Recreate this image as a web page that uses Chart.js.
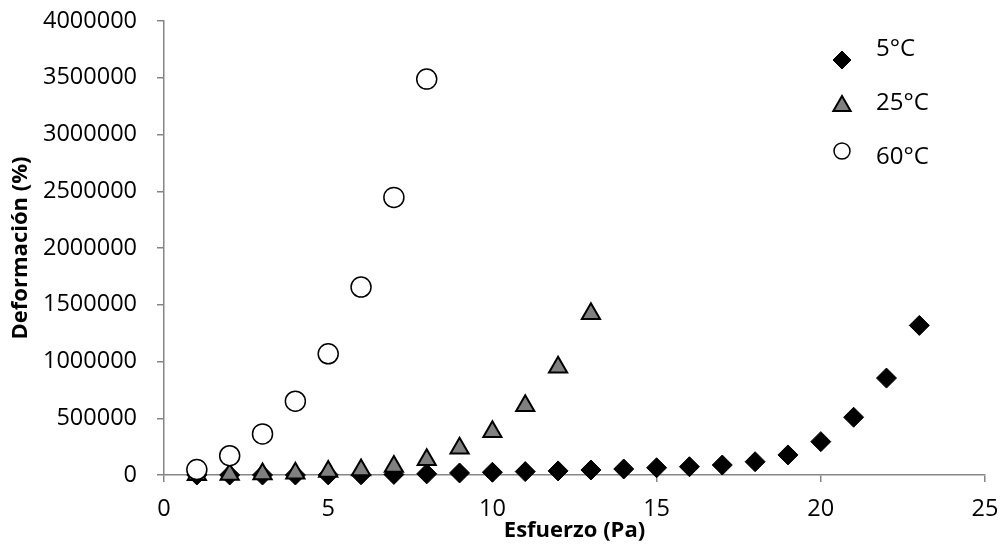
<!DOCTYPE html>
<html>
<head>
<meta charset="utf-8">
<script src="https://cdn.jsdelivr.net/npm/chart.js@4/dist/chart.umd.min.js"></script>
<style>
    html, body { margin: 0; padding: 0; background: #fff; }
    #wrap { width: 1000px; height: 548px; }
</style>
</head>
<body>
<div id="wrap"><canvas id="myChart" width="1000" height="548"></canvas></div>
<script>
// Esfuerzo (Pa) por serie
const stress5 = [1, 2, 3, 4, 5, 6, 7, 8, 9, 10, 11, 12, 13, 14, 15, 16, 17, 18, 19, 20, 21, 22, 23];
const stress25 = [1, 2, 3, 4, 5, 6, 7, 8, 9, 10, 11, 12, 13];
const stress60 = [1, 2, 3, 4, 5, 6, 7, 8];

// Deformación (%) por serie
const strain5 = [0, 0, 0, 0, 1000, 2000, 5000, 10000, 18000, 24000, 30000, 36000, 44000,
    53000, 64000, 73000, 88000, 117000, 177000, 294000, 509000, 854000, 1318000];
const strain25 = [2000, 5000, 9000, 15000, 30000, 45000, 75000, 135000, 235000, 380000, 610000, 950000, 1420000];
const strain60 = [48000, 170000, 362000, 650000, 1068000, 1656000, 2446000, 3488000];

const seriesLabels = ['5°C', '25°C', '60°C'];

const xTicksMax = 25;
const xTicksStep = 5;
const yTicksMax = 4000000;
const yTicksStep = 500000;

const FONT = '"Open Sans", sans-serif';
const AXIS_GREY = '#868686';

const toPoints = (xs, ys) => xs.map((x, i) => ({ x: x, y: ys[i] }));

function drawMarker(ctx, style, x, y, r, fill, stroke, lw)
{
    ctx.save();
    ctx.beginPath();
    if (style === 'rectRot')
    {
        ctx.moveTo(x, y - r);
        ctx.lineTo(x + r, y);
        ctx.lineTo(x, y + r);
        ctx.lineTo(x - r, y);
        ctx.closePath();
    }
    else if (style === 'triangle')
    {
        const h = r * Math.cos(Math.PI / 6);
        ctx.moveTo(x, y - r);
        ctx.lineTo(x + h, y + r / 2);
        ctx.lineTo(x - h, y + r / 2);
        ctx.closePath();
    }
    else
    {
        ctx.arc(x, y, r, 0, Math.PI * 2);
    }
    ctx.fillStyle = fill;
    ctx.fill();
    ctx.lineWidth = lw;
    ctx.strokeStyle = stroke;
    ctx.stroke();
    ctx.restore();
}

// legend sits inside the plot, top right, one entry per row
const insideLegend = {
    id: 'insideLegend',
    afterDraw(chart)
    {
        const ctx = chart.ctx;
        const rows = [
            { my: 60, ty: 49, r: 9 },
            { my: 106, ty: 103, r: 10 },
            { my: 151, ty: 157, r: 8 },
        ];
        chart.data.datasets.forEach((ds, i) =>
        {
            const row = rows[i];
            drawMarker(ctx, ds.pointStyle, 842, row.my, row.r, ds.backgroundColor, ds.borderColor, ds.borderWidth);
            ctx.save();
            ctx.font = '24px ' + FONT;
            ctx.fillStyle = '#000';
            ctx.textAlign = 'left';
            ctx.textBaseline = 'middle';
            ctx.fillText(ds.label, 876, row.ty);
            ctx.restore();
        });
    }
};

const chartContext = document.getElementById('myChart').getContext('2d');

new Chart(chartContext, {
    type: 'scatter',
    data: {
        datasets: [
            {
                label: seriesLabels[0],
                data: toPoints(stress5, strain5),
                pointStyle: 'rectRot',
                pointRadius: 10,
                pointHoverRadius: 10,
                backgroundColor: '#000000',
                borderColor: '#000000',
                borderWidth: 1,
                order: 3,
                clip: false,
            },
            {
                label: seriesLabels[1],
                data: toPoints(stress25, strain25),
                pointStyle: 'triangle',
                pointRadius: 10.5,
                pointHoverRadius: 10.5,
                backgroundColor: '#808080',
                borderColor: '#000000',
                borderWidth: 2,
                order: 2,
                clip: false,
            },
            {
                label: seriesLabels[2],
                data: toPoints(stress60, strain60),
                pointStyle: 'circle',
                pointRadius: 10,
                pointHoverRadius: 10,
                backgroundColor: '#ffffff',
                borderColor: '#000000',
                borderWidth: 1.5,
                order: 1,
                clip: false,
            },
        ]
    },
    options: {
        responsive: false,
        animation: false,
        events: [],
        layout: {
            padding: { top: 21, right: 15, left: 0, bottom: 0 }
        },
        plugins: {
            legend: { display: false },
            tooltip: { enabled: false },
        },
        scales: {
            x: {
                type: 'linear',
                min: 0,
                max: xTicksMax,
                // fixed box so the plot area lines up with the axis frame
                afterFit: (scale) =>
                {
                    scale.height = 73;
                    scale.paddingLeft = 0;
                    scale.paddingRight = 0;
                },
                border: { color: AXIS_GREY, width: 1.5 },
                grid: {
                    drawOnChartArea: false,
                    drawTicks: true,
                    tickLength: 7,
                    color: AXIS_GREY,
                    lineWidth: 1.5,
                },
                ticks: {
                    stepSize: xTicksStep,
                    padding: 13,
                    color: '#000',
                    font: { family: FONT, size: 23.5 },
                    maxRotation: 0,
                },
                title: {
                    display: true,
                    text: 'Esfuerzo (Pa)',
                    color: '#000',
                    font: { family: FONT, size: 22, weight: 'bold' },
                    padding: { top: 4, bottom: 4 },
                },
            },
            y: {
                type: 'linear',
                min: 0,
                max: yTicksMax,
                afterFit: (scale) =>
                {
                    scale.width = 164;
                    scale.paddingTop = 0;
                    scale.paddingBottom = 0;
                },
                border: { color: AXIS_GREY, width: 1.5 },
                grid: {
                    drawOnChartArea: false,
                    drawTicks: true,
                    tickLength: 7,
                    color: AXIS_GREY,
                    lineWidth: 1.5,
                },
                ticks: {
                    stepSize: yTicksStep,
                    padding: 20,
                    color: '#000',
                    font: { family: FONT, size: 23.5 },
                    callback: function (value)
                    {
                        return String(value);
                    }
                },
                title: {
                    display: true,
                    text: 'Deformación (%)',
                    color: '#000',
                    font: { family: FONT, size: 22, weight: 'bold' },
                    padding: { top: 8, bottom: 0 },
                },
            }
        }
    },
    plugins: [insideLegend]
});
</script>
</body>
</html>
